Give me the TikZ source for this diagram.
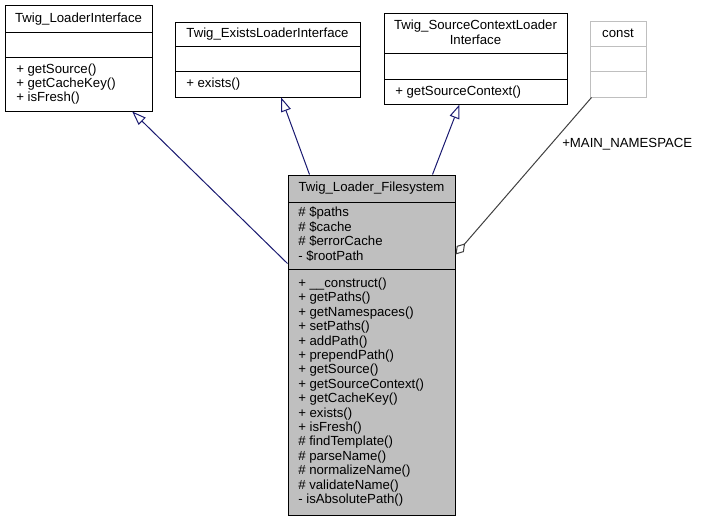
\documentclass[tikz,border=0pt]{standalone}
\usepackage{fontspec}
\setmainfont{Liberation Sans}
\usetikzlibrary{arrows.meta,fit}
\definecolor{inhblue}{HTML}{191970}
\definecolor{boxgray}{HTML}{BFBFBF}
\definecolor{agggray}{HTML}{404040}
\begin{document}
\begin{tikzpicture}[x=0.75pt,y=-0.75pt,
  font=\fontsize{9.9}{11.5}\selectfont,
  box/.style={draw=black, line width=0.75pt, inner sep=0pt},
  mainbox/.style={box, fill=boxgray},
  constbox/.style={draw=boxgray, line width=0.75pt, inner sep=0pt},
  sep/.style={draw=black, line width=0.75pt},
  csep/.style={draw=boxgray, line width=0.75pt},
  lbl/.style={anchor=base west, inner sep=0pt},
  ttl/.style={anchor=base, inner sep=0pt},
  inh/.style={draw=inhblue, line width=0.75pt, -{Triangle[open, fill=white, length=10.5pt, width=7.5pt]}},
  agg/.style={draw=agggray, line width=0.75pt, {Diamond[open, fill=white, length=11pt, width=7pt]}-}]
\useasboundingbox (0,0) rectangle (701,521);

% ---- boxes ----
\node[box, fit={(5,5) (152,111)}] (b1) {};
\node[box, fit={(175,22) (360,97)}] (b2) {};
\node[box, fit={(384,13) (567,104)}] (b3) {};
\node[constbox, fit={(590,21) (646,97)}] (c) {};
\node[mainbox, fit={(288,175) (455,515)}] (m) {};

% ---- compartment separators ----
\draw[sep] (5,32) -- (152,32);
\draw[sep] (5,57) -- (152,57);
\draw[sep] (175,46) -- (360,46);
\draw[sep] (175,71) -- (360,71);
\draw[sep] (384,53) -- (567,53);
\draw[sep] (384,79) -- (567,79);
\draw[csep] (590,46) -- (646,46);
\draw[csep] (590,71) -- (646,71);
\draw[sep] (288,202) -- (455,202);
\draw[sep] (288,269) -- (455,269);

% ---- texts ----
\node[ttl] (t1) at (78.5,22.5) {Twig\_LoaderInterface};
\node[lbl] (t1a) at (16,73.5) {+ getSource()};
\node[lbl] (t1b) at (16,87.5) {+ getCacheKey()};
\node[lbl] (t1c) at (16,101.5) {+ isFresh()};

\node[ttl] (t2) at (267.5,37.5) {Twig\_ExistsLoaderInterface};
\node[lbl] (t2a) at (186,87.5) {+ exists()};

\node[ttl] (t3) at (475.5,29.5) {Twig\_SourceContextLoader};
\node[ttl] (t3b) at (475.5,44) {Interface};
\node[lbl] (t3a) at (395,95.5) {+ getSourceContext()};

\node[ttl] (tc) at (618,37.5) {const};

\node[ttl] (tm) at (371.5,191.5) {Twig\_Loader\_Filesystem};
\node[lbl] (ma1) at (298,216.5) {\# \$paths};
\node[lbl] (ma2) at (298,231) {\# \$cache};
\node[lbl] (ma3) at (298,245.5) {\# \$errorCache};
\node[lbl] (ma4) at (298,260) {- \$rootPath};

\foreach \t [count=\i from 0] in {%
  {+ \_\_construct()},{+ getPaths()},{+ getNamespaces()},{+ setPaths()},
  {+ addPath()},{+ prependPath()},{+ getSource()},{+ getSourceContext()},
  {+ getCacheKey()},{+ exists()},{+ isFresh()},{\# findTemplate()},
  {\# parseName()},{\# normalizeName()},{\# validateName()},{- isAbsolutePath()}}
  \node[lbl] (mm\i) at (298,{287.5+14.4*\i}) {\t};

% ---- connector end points on borders ----
\path (m.north west) ++(0,89) coordinate (m1);
\path (m.north west) ++(22,0) coordinate (m2);
\path (m.north west) ++(145,0) coordinate (m3);
\path (m.north east) ++(0,80) coordinate (m4);
\path (b1.south west) ++(127.7,0) coordinate (b1t);
\path (b2.south west) ++(106.7,0) coordinate (b2t);
\path (b3.south west) ++(76,0) coordinate (b3t);
\path (c.south west) ++(2,0) coordinate (ct);

% ---- connectors ----
\draw[inh] (m1) -- (b1t);
\draw[inh] (m2) -- (b2t);
\draw[inh] (m3) -- (b3t);
\draw[agg] (m4) -- (ct);
\node[lbl] (lab) at (562,147.5) {+MAIN\_NAMESPACE};
\end{tikzpicture}
\end{document}
